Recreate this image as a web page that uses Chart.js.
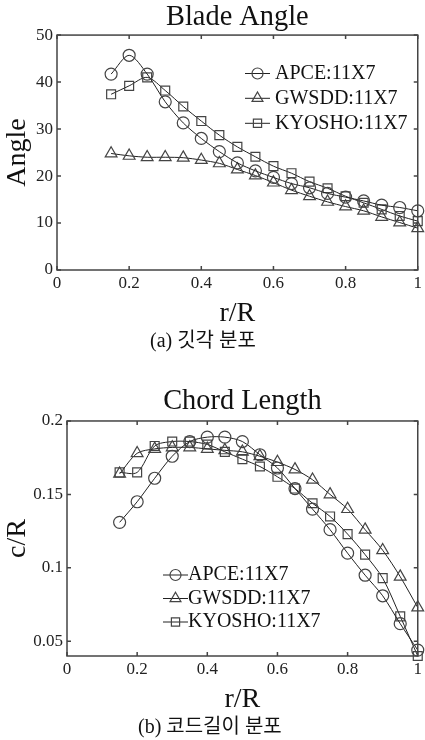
<!DOCTYPE html>
<html>
<head>
<meta charset="utf-8">
<script src="https://cdn.jsdelivr.net/npm/chart.js@4.4.0/dist/chart.umd.min.js"></script>
<style>
  html, body { margin: 0; padding: 0; background: #fff; overflow: hidden; }
  body { width: 425px; height: 740px; position: relative; }
  .box { position: absolute; left: 0; width: 425px; }
  #angleBox { top: 0; height: 335px; }
  #chordBox { top: 370px; height: 350px; }
  .caption { position: absolute; font-family: "Liberation Serif", "Noto Sans CJK KR", serif;
             font-size: 20px; line-height: 24px; color: #111; white-space: nowrap; }
</style>
</head>
<body>
<div class="box" id="angleBox"><canvas id="angleChart"></canvas></div>
<div class="caption" style="top:328px; left:150px">(a) 깃각 분포</div>
<div class="box" id="chordBox"><canvas id="chordChart"></canvas></div>
<div class="caption" style="top:714px; left:138px">(b) 코드길이 분포</div>
<script>
// r/R stations
const rR = [0.15, 0.2, 0.25, 0.3, 0.35, 0.4, 0.45, 0.5, 0.55, 0.6, 0.65, 0.7, 0.75, 0.8, 0.85, 0.9, 0.95, 1.0];

const seriesNames = ["APCE:11X7", "GWSDD:11X7", "KYOSHO:11X7"];

// blade angle (deg)
const apceAngle   = [41.7, 45.7, 41.7, 35.8, 31.3, 28.0, 25.2, 22.8, 21.1, 19.7, 18.4, 17.5, 16.3, 15.5, 14.7, 13.8, 13.3, 12.6];
const gwsddAngle  = [24.8, 24.3, 24.0, 24.0, 23.9, 23.4, 22.7, 21.4, 20.1, 18.6, 17.0, 15.7, 14.5, 13.5, 12.6, 11.3, 10.1, 8.9];
const kyoshoAngle = [37.4, 39.2, 41.0, 38.2, 34.8, 31.7, 28.7, 26.2, 24.1, 22.1, 20.6, 18.8, 17.4, 15.7, 14.3, 12.9, 11.5, 10.4];

// chord length c/R
const apceChord   = [0.131, 0.145, 0.161, 0.176, 0.186, 0.189, 0.189, 0.186, 0.177, 0.168, 0.154, 0.140, 0.126, 0.110, 0.095, 0.081, 0.062, 0.044];
const gwsddChord  = [0.164, 0.178, 0.181, 0.182, 0.182, 0.181, 0.180, 0.179, 0.176, 0.172, 0.167, 0.160, 0.150, 0.140, 0.126, 0.112, 0.094, 0.073];
const kyoshoChord = [0.165, 0.165, 0.183, 0.186, 0.186, 0.184, 0.179, 0.174, 0.169, 0.162, 0.154, 0.144, 0.135, 0.123, 0.109, 0.093, 0.067, 0.040];

const xTicks = [0, 0.2, 0.4, 0.6, 0.8, 1];
const xTickLabels = ["0", "0.2", "0.4", "0.6", "0.8", "1"];
const angleTicks = [0, 10, 20, 30, 40, 50];
const angleTickLabels = ["0", "10", "20", "30", "40", "50"];
const chordTicks = [0.05, 0.1, 0.15, 0.2];
const chordTickLabels = ["0.05", "0.1", "0.15", "0.2"];

const serif = "'Liberation Serif', 'Times New Roman', serif";
const markers = ["circle", "triangle", "rect"];
const markerSize = [6, 6.8, 6.3];

function makeSets(lists) {
  return lists.map((vals, i) => ({
    label: seriesNames[i],
    data: rR.map((x, j) => ({ x: x, y: vals[j] })),
    borderColor: "#222",
    borderWidth: 1,
    pointStyle: markers[i],
    pointRadius: markerSize[i],
    pointBorderColor: "#444",
    pointBorderWidth: 1.2,
    pointBackgroundColor: "rgba(0,0,0,0)",
    tension: 0.3,
    clip: false
  }));
}

function marker(ctx, style, r, x, y) {
  ctx.beginPath();
  if (style === "circle") {
    ctx.arc(x, y, r, 0, Math.PI * 2);
  } else if (style === "triangle") {
    for (let k = 0; k < 3; k++) {
      const a = k * 2 * Math.PI / 3;
      const px = x + Math.sin(a) * r, py = y - Math.cos(a) * r;
      k ? ctx.lineTo(px, py) : ctx.moveTo(px, py);
    }
    ctx.closePath();
  } else {
    const s = Math.SQRT1_2 * r;
    ctx.rect(x - s, y - s, 2 * s, 2 * s);
  }
  ctx.stroke();
}

// box frame, inward ticks and the in-plot legend
const framePlugin = {
  id: "frame",
  afterDatasetsDraw(chart, args, opts) {
    const { ctx, chartArea: a, scales: { x, y } } = chart;
    ctx.save();
    ctx.strokeStyle = "#444";
    ctx.lineWidth = 1.5;
    ctx.strokeRect(a.left, a.top, a.right - a.left, a.bottom - a.top);
    ctx.beginPath();
    x.ticks.forEach(t => {
      const px = x.getPixelForValue(t.value);
      ctx.moveTo(px, a.bottom); ctx.lineTo(px, a.bottom - 4);
      ctx.moveTo(px, a.top); ctx.lineTo(px, a.top + 4);
    });
    y.ticks.forEach(t => {
      const py = y.getPixelForValue(t.value);
      ctx.moveTo(a.left, py); ctx.lineTo(a.left + 4, py);
      ctx.moveTo(a.right, py); ctx.lineTo(a.right - 4, py);
    });
    ctx.stroke();

    ctx.font = "20px " + serif;
    ctx.textBaseline = "middle";
    ctx.fillStyle = "#111";
    chart.data.datasets.forEach((ds, i) => {
      const ly = opts.rows[i];
      ctx.strokeStyle = "#222";
      ctx.lineWidth = 1;
      ctx.beginPath();
      ctx.moveTo(opts.x, ly); ctx.lineTo(opts.x + 25, ly);
      ctx.stroke();
      ctx.strokeStyle = "#444";
      ctx.lineWidth = 1.2;
      marker(ctx, ds.pointStyle, ds.pointRadius - 0.5, opts.x + 12.5, ly);
      ctx.fillText(ds.label, opts.textX, ly);
    });
    ctx.restore();
  }
};

function makeChart(id, cfg) {
  return new Chart(document.getElementById(id), {
    type: "line",
    data: { datasets: cfg.sets },
    plugins: [framePlugin],
    options: {
      responsive: true,
      maintainAspectRatio: false,
      animation: false,
      layout: { autoPadding: false, padding: { left: 0, right: cfg.padRight, top: 0, bottom: 0 } },
      plugins: {
        legend: { display: false },
        tooltip: { enabled: false },
        title: {
          display: true, text: cfg.title, color: "#111", fullSize: false,
          font: { family: serif, size: 28.4, weight: "normal" },
          padding: cfg.titlePad
        },
        frame: cfg.legend
      },
      scales: {
        x: {
          type: "linear", min: 0, max: 1,
          grid: { display: false, drawTicks: false },
          border: { display: false },
          afterBuildTicks: s => { s.ticks = xTicks.map(v => ({ value: v })); },
          afterFit: s => { s.height = cfg.xHeight; },
          ticks: { color: "#222", padding: cfg.xTickPad, maxRotation: 0,
                   font: { family: serif, size: 17 },
                   callback: (v, i) => xTickLabels[i] },
          title: { display: true, text: "r/R", color: "#111",
                   font: { family: serif, size: 28 }, padding: { top: 0, bottom: cfg.xTitlePad } }
        },
        y: {
          type: "linear", min: cfg.yMin, max: cfg.yMax,
          grid: { display: false, drawTicks: false },
          border: { display: false },
          afterBuildTicks: s => { s.ticks = cfg.yTicks.map(v => ({ value: v })); },
          afterFit: s => { s.width = cfg.yWidth; },
          ticks: { color: "#222", padding: 4,
                   font: { family: serif, size: 17 },
                   callback: (v, i) => cfg.yLabels[i] },
          title: { display: true, text: cfg.yTitle, color: "#111",
                   font: { family: serif, size: 28 }, padding: { top: 1, bottom: 0 } }
        }
      }
    }
  });
}

makeChart("angleChart", {
  sets: makeSets([apceAngle, gwsddAngle, kyoshoAngle]),
  title: "Blade Angle", titlePad: { top: 0.5, bottom: 0.5 },
  yMin: 0, yMax: 50, yTicks: angleTicks, yLabels: angleTickLabels, yTitle: "Angle",
  yWidth: 57, xHeight: 65, xTickPad: 3, xTitlePad: 5, padRight: 3,
  legend: { x: 245, textX: 275, rows: [73.5, 98.3, 123.3] }
});

makeChart("chordChart", {
  sets: makeSets([apceChord, gwsddChord, kyoshoChord]),
  title: "Chord Length", titlePad: { top: 15, bottom: 1.9 },
  yMin: 0.04, yMax: 0.2, yTicks: chordTicks, yLabels: chordTickLabels, yTitle: "c/R",
  yWidth: 67, xHeight: 64, xTickPad: 3, xTitlePad: 4, padRight: 2,
  legend: { x: 163, textX: 188, rows: [205, 228.5, 252] }
});
</script>
</body>
</html>
